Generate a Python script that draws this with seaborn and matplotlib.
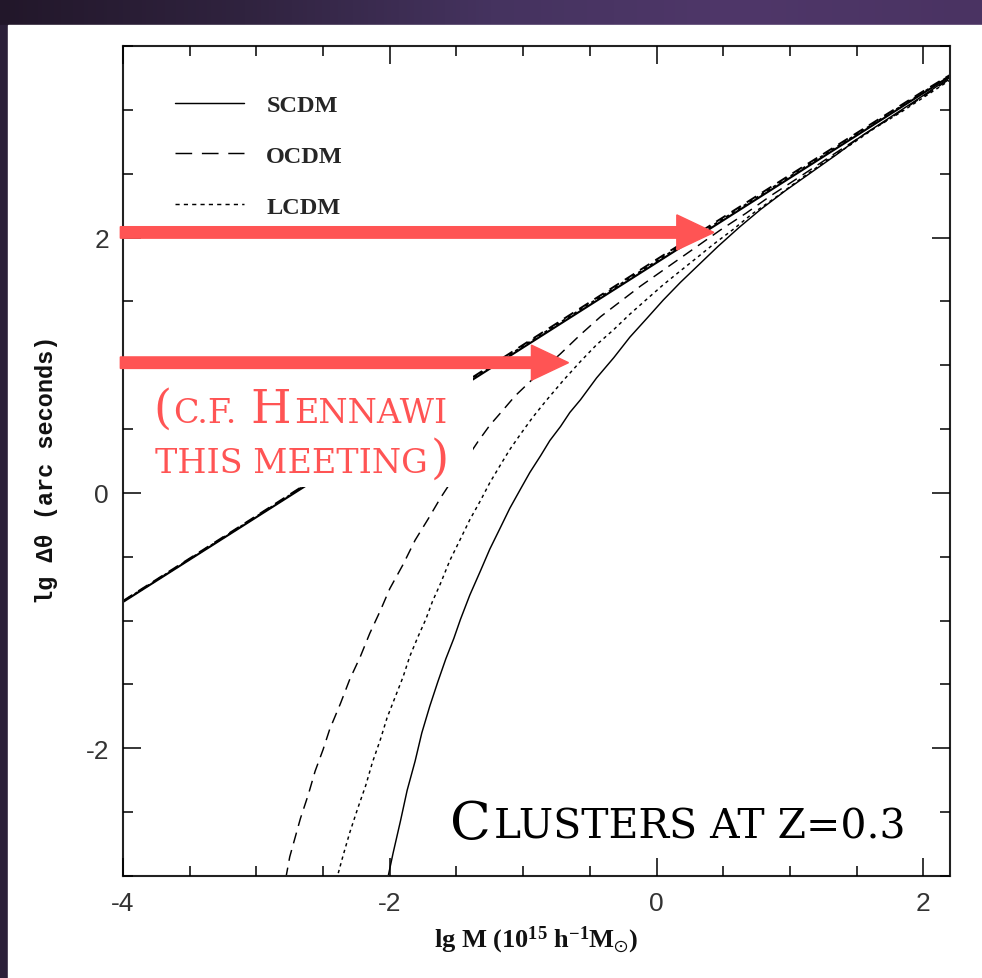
import matplotlib
matplotlib.use("Agg")
import numpy as np
import matplotlib.pyplot as plt
import seaborn as sns
from matplotlib.patches import Rectangle, FancyArrow
from matplotlib.lines import Line2D
from matplotlib.ticker import MultipleLocator
from matplotlib.colors import LinearSegmentedColormap

# ---------------- data ----------------
models = ["SCDM", "OCDM", "LCDM"]

upper_x = [-4.0, -3.0, -2.0, -1.0, 0.0, 1.0, 2.0, 2.25]
scdm_upper_y = [-0.854, -0.190, 0.474, 1.139, 1.803, 2.467, 3.131, 3.297]
ocdm_upper_y = [-0.846, -0.180, 0.490, 1.160, 1.828, 2.490, 3.146, 3.305]
lcdm_upper_y = [-0.850, -0.185, 0.482, 1.150, 1.815, 2.478, 3.138, 3.301]

scdm_lower_x = [-2.03, -1.975, -1.92, -1.87, -1.81, -1.76, -1.70, -1.64, -1.58, -1.52, -1.47,
                -1.40, -1.32, -1.25, -1.17, -1.10, -1.02, -0.95, -0.87, -0.80, -0.72, -0.65,
                -0.57, -0.45, -0.32, -0.20, -0.07, 0.05, 0.18, 0.32, 0.46, 0.62, 0.78,
                0.97, 1.16, 1.35, 1.53, 1.72, 1.91, 2.21]
scdm_lower_y = [-3.09, -2.82, -2.57, -2.33, -2.10, -1.88, -1.67, -1.48, -1.30, -1.14, -0.99,
                -0.80, -0.61, -0.44, -0.27, -0.12, 0.03, 0.16, 0.29, 0.41, 0.52, 0.63,
                0.73, 0.90, 1.06, 1.22, 1.37, 1.51, 1.65, 1.79, 1.93, 2.08, 2.22,
                2.37, 2.51, 2.65, 2.79, 2.92, 3.05, 3.26]

ocdm_lower_x = [-2.78, -2.75, -2.71, -2.67, -2.61, -2.56, -2.50, -2.45, -2.37, -2.30, -2.22,
                -2.15, -2.07, -2.00, -1.90, -1.81, -1.71, -1.62, -1.52, -1.43, -1.34, -1.25,
                -1.15, -1.06, -0.89, -0.72, -0.57, -0.42, -0.27, -0.12, 0.03, 0.18, 0.33,
                0.48, 0.67, 0.86, 1.08, 1.31, 1.53, 1.76, 2.21]
ocdm_lower_y = [-3.02, -2.85, -2.70, -2.55, -2.36, -2.18, -2.01, -1.85, -1.65, -1.46, -1.28,
                -1.10, -0.92, -0.75, -0.56, -0.37, -0.20, -0.04, 0.12, 0.26, 0.40, 0.53,
                0.65, 0.76, 0.93, 1.09, 1.24, 1.38, 1.50, 1.62, 1.73, 1.84, 1.95,
                2.06, 2.19, 2.33, 2.48, 2.64, 2.79, 2.94, 3.25]

lcdm_lower_x = [-2.40, -2.35, -2.30, -2.24, -2.18, -2.13, -2.07, -2.02, -1.96, -1.90, -1.85,
                -1.79, -1.73, -1.68, -1.62, -1.55, -1.47, -1.40, -1.32, -1.25, -1.17, -1.10,
                -1.02, -0.93, -0.83, -0.70, -0.57, -0.45, -0.32, -0.20, -0.07, 0.05, 0.18,
                0.30, 0.43, 0.57, 0.71, 0.90, 1.08, 1.27, 1.46, 1.64, 1.83, 2.21]
lcdm_lower_y = [-3.03, -2.84, -2.66, -2.47, -2.29, -2.11, -1.93, -1.76, -1.60, -1.44, -1.28,
                -1.13, -0.99, -0.85, -0.71, -0.53, -0.36, -0.21, -0.06, 0.08, 0.22, 0.34,
                0.46, 0.59, 0.72, 0.88, 1.03, 1.16, 1.28, 1.40, 1.52, 1.63, 1.74,
                1.84, 1.95, 2.06, 2.18, 2.32, 2.46, 2.60, 2.73, 2.86, 2.98, 3.24]

x_ticks = [-4, -2, 0, 2]
y_ticks = [-2, 0, 2]
arrow_tips_x = [0.43, -0.66]
arrow_levels_y = [2.04, 1.02]

# ---------------- style ----------------
sns.set_style("ticks")
plt.rcParams["font.family"] = ["DejaVu Sans"]
plt.rcParams["axes.unicode_minus"] = False
plt.rcParams["lines.scale_dashes"] = False
plt.rcParams["mathtext.default"] = "regular"

W_PX, H_PX = 982, 979
fig = plt.figure(figsize=(W_PX / 100, H_PX / 100), dpi=100)
fig.patch.set_facecolor("#2b1f38")

# background frame (slide look)
bg = fig.add_axes([0, 0, 1, 1], zorder=-100)
bg.set_axis_off()
bg.set_xlim(0, 1)
bg.set_ylim(0, 1)
bar_cmap = LinearSegmentedColormap.from_list(
    "bar", ["#22172a", "#30233f", "#45335f", "#4f3769", "#4a3362"])
bg.imshow(np.linspace(0, 1, 256)[None, :], cmap=bar_cmap, aspect="auto",
          extent=(0, 1, 1 - 26 / H_PX, 1))
bg.add_patch(Rectangle((0, 0), 8 / W_PX, 1 - 26 / H_PX, color="#2c2039"))
bg.add_patch(Rectangle((8 / W_PX, 0), 1, 1 - 26 / H_PX, color="white"))

# main axes
ax_l, ax_r, ax_t, ax_b = 123, 950, 47, 877
ax = fig.add_axes([ax_l / W_PX, 1 - ax_b / H_PX, (ax_r - ax_l) / W_PX, (ax_b - ax_t) / H_PX])
ax.set_facecolor("white")

lw = 1.05
dashed_plot = (0, (8, 5))
dotted_plot = (0, (2.4, 2.6))
curves = [
    (upper_x, scdm_upper_y, "-", 1.5),
    (upper_x, ocdm_upper_y, dashed_plot, 1.4),
    (upper_x, lcdm_upper_y, dotted_plot, 1.4),
    (scdm_lower_x, scdm_lower_y, "-", lw),
    (ocdm_lower_x, ocdm_lower_y, dashed_plot, lw),
    (lcdm_lower_x, lcdm_lower_y, dotted_plot, lw),
]
for xs, ys, ls, w in curves:
    sns.lineplot(x=xs, y=ys, ax=ax, color="black", linewidth=w, linestyle=ls,
                 sort=False, estimator=None, legend=False, zorder=2)

ax.set_xlim(-4, 2.2)
ax.set_ylim(-3, 3.5)
ax.set_xticks(x_ticks)
ax.set_yticks(y_ticks)
ax.set_xticklabels([str(v) for v in x_ticks])
ax.set_yticklabels([str(v) for v in y_ticks])
ax.xaxis.set_minor_locator(MultipleLocator(0.5))
ax.yaxis.set_minor_locator(MultipleLocator(0.5))
ax.tick_params(which="both", direction="in", top=True, right=True, color="black", width=1.1)
ax.tick_params(which="major", length=13)
ax.tick_params(which="minor", length=7)
ax.tick_params(axis="x", which="major", pad=11, labelsize=19, labelcolor="#333333")
ax.tick_params(axis="y", which="major", pad=10, labelsize=19, labelcolor="#333333")
for lab in ax.get_xticklabels() + ax.get_yticklabels():
    lab.set_fontfamily("Liberation Sans")
for sp in ax.spines.values():
    sp.set_linewidth(1.5)
    sp.set_color("#222222")
ax.set_axisbelow(False)

ax.set_xlabel(r"lg M (10$^{15}$ h$^{-1}$M$_{\odot}$)", fontfamily="Liberation Serif",
              fontweight="bold", fontsize=19, color="#111111")
ax.xaxis.set_label_coords(0.5, -0.058)
ax.set_ylabel("lg Δθ (arc seconds)", fontfamily="Liberation Mono", fontweight="bold",
              fontsize=17, color="#111111")
ax.yaxis.set_label_coords(-0.078, 0.49)

# legend
handles = [
    Line2D([], [], color="black", lw=lw, linestyle="-"),
    Line2D([], [], color="black", lw=lw, linestyle=(0, (12, 7))),
    Line2D([], [], color="black", lw=lw, linestyle=(0, (3, 3))),
]
ax.legend(handles, models, loc="upper left", bbox_to_anchor=(0.063, 0.942), frameon=False,
          borderpad=0, borderaxespad=0, handlelength=2.85, handletextpad=0.9,
          labelspacing=1.18, prop={"family": "Liberation Serif", "weight": "bold", "size": 17.5})

# white note box covering part of the plot
ax.add_patch(Rectangle((-3.975, 0.05), 2.6, 0.9, facecolor="white", edgecolor="none", zorder=2.2))

# red arrows
red = "#FF5454"
for tip, yv in zip(arrow_tips_x, arrow_levels_y):
    ax.add_patch(FancyArrow(-4.02, yv, tip + 4.02, 0, width=0.09, head_width=0.275,
                            head_length=0.278, length_includes_head=True, color=red,
                            clip_on=False, zorder=5))


# small-caps style text runs
def draw_runs(runs, center_px, baseline_px, color):
    renderer = fig.canvas.get_renderer()
    arts, widths = [], []
    for s, size in runs:
        if s.strip() == "":
            arts.append(None)
            widths.append(0.42 * size * fig.dpi / 72)
            continue
        t = fig.text(0, 0, s, fontsize=size, family="DejaVu Serif", color=color,
                     ha="left", va="baseline", zorder=6)
        arts.append(t)
        widths.append(t.get_window_extent(renderer).width)
    gaps = []
    for i in range(len(runs) - 1):
        if arts[i] is not None and arts[i + 1] is not None:
            gaps.append(0.07 * min(runs[i][1], runs[i + 1][1]) * fig.dpi / 72)
        else:
            gaps.append(0.0)
    total = sum(widths) + sum(gaps)
    x = center_px - total / 2
    for i, t in enumerate(arts):
        if t is not None:
            t.set_position((x / W_PX, 1 - baseline_px / H_PX))
        x += widths[i] + (gaps[i] if i < len(gaps) else 0)


RB, RS = 33.5, 24
draw_runs([("(", RB), ("C.F.", RS), (" ", RS), ("H", RB), ("ENNAWI", RS)], 300, 423, red)
draw_runs([("THIS MEETING", RS), (")", RB)], 302, 473, red)
draw_runs([("C", 38.5), ("LUSTERS AT Z=0.3", 29.4)], 678, 839, "black")

fig.savefig("out.png", dpi=100, facecolor=fig.get_facecolor())
